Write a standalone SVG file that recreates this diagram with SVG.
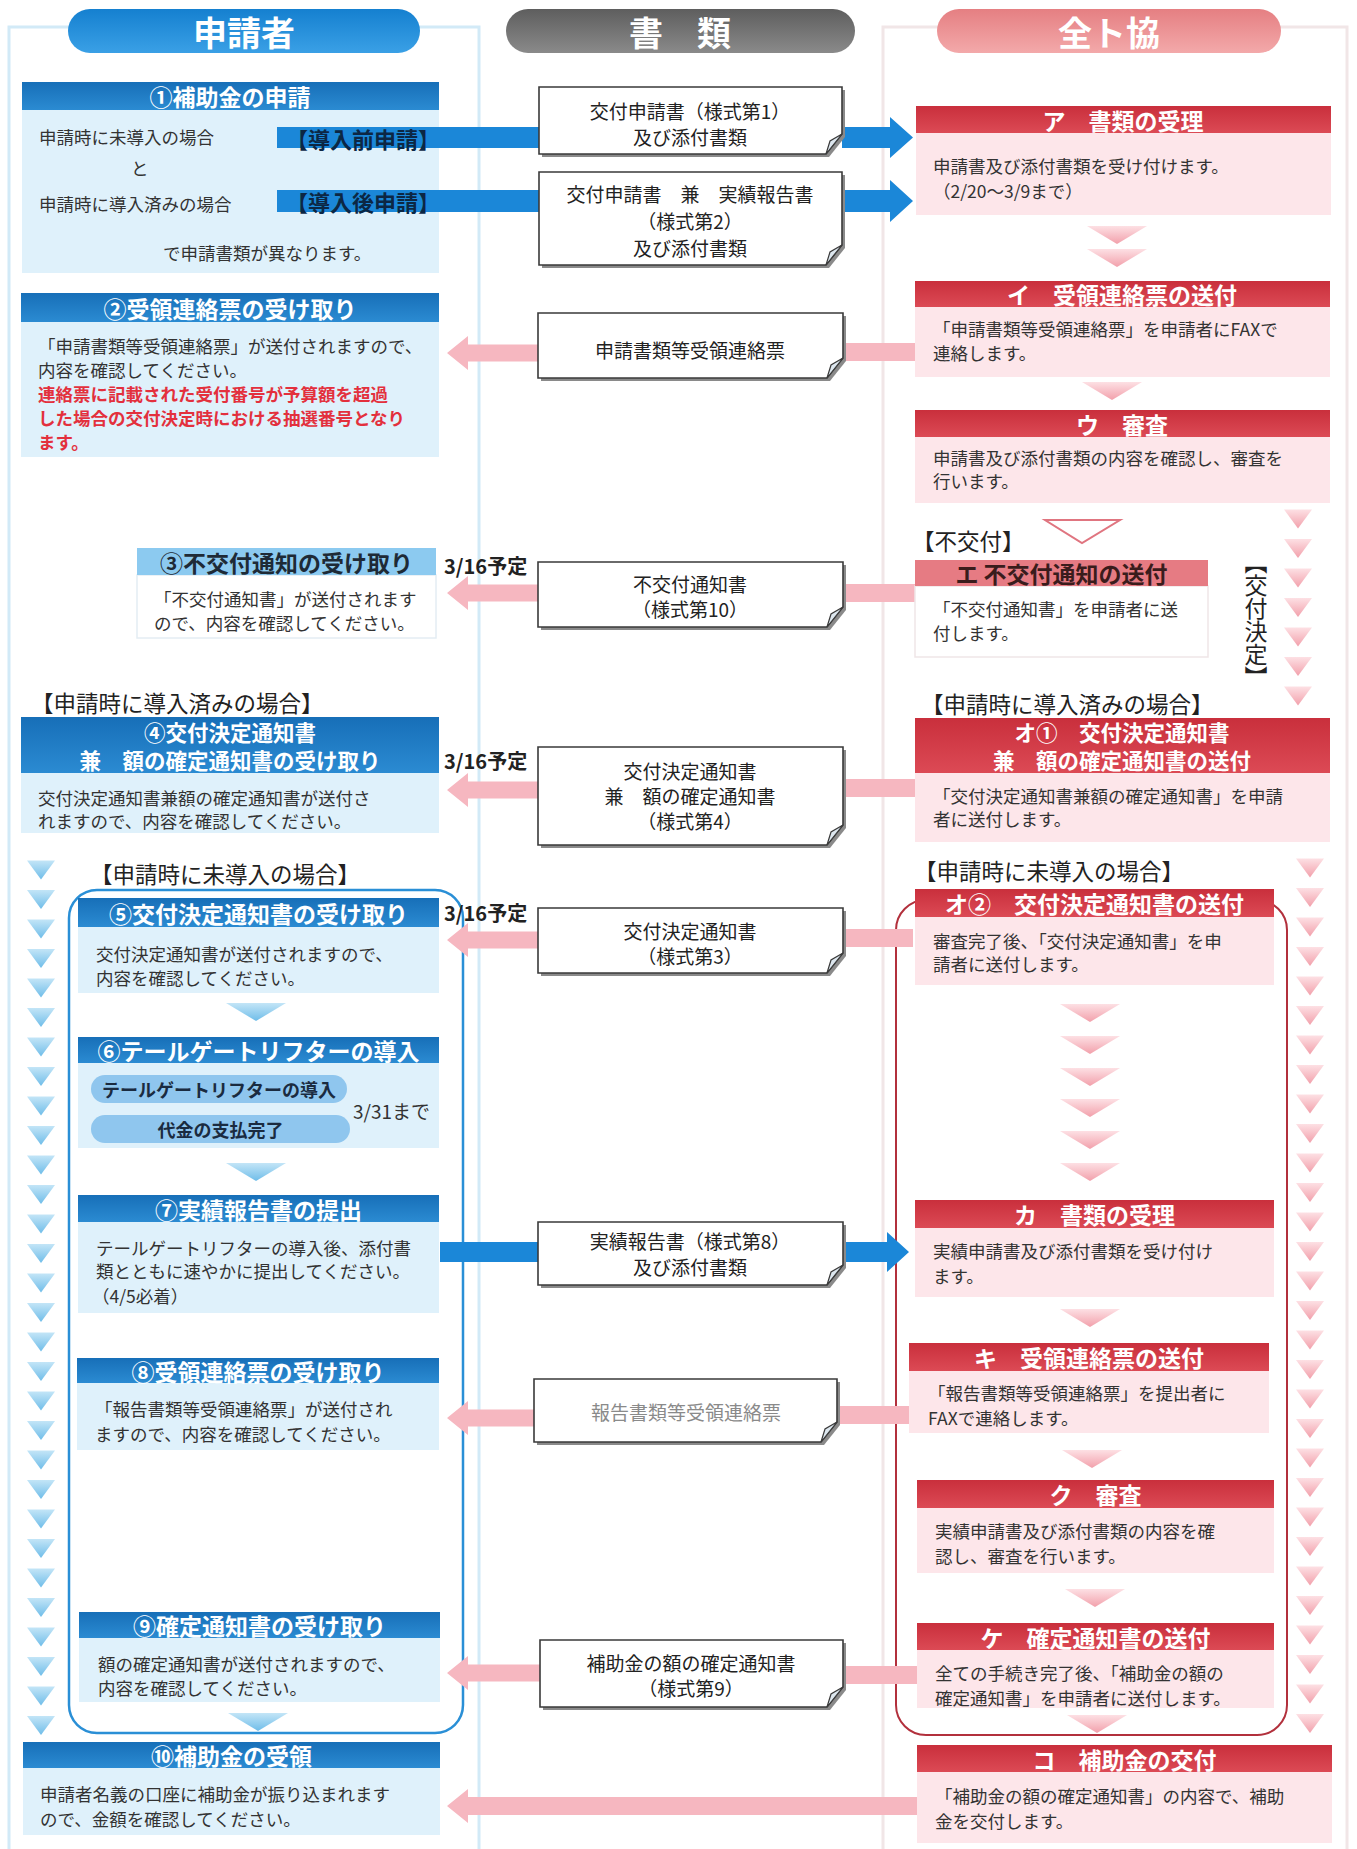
<svg xmlns="http://www.w3.org/2000/svg" xmlns:xlink="http://www.w3.org/1999/xlink" width="1357" height="1849" viewBox="0 0 1357 1849">
<defs>
<style>
text{font-family:"Noto Sans CJK JP","Noto Sans CJK SC",sans-serif;dominant-baseline:central}
.pt{font-size:34px;font-weight:bold;fill:#fff;text-anchor:middle}
.ht{font-size:23px;font-weight:bold;fill:#fff;text-anchor:middle}
.ht2{font-size:21.5px;font-weight:bold;fill:#fff;text-anchor:middle}
.hd{font-size:23px;font-weight:bold;fill:#1e2a36;text-anchor:middle}
.t{font-size:17.5px;fill:#333}
.tr{font-size:17.5px;fill:#e3303d;font-weight:bold}
.dt{font-size:19px;fill:#222;text-anchor:middle}
.lb{font-size:22.5px;fill:#222}
.dd{font-size:20px;font-weight:bold;fill:#222}
.hb{fill:url(#gHB)}
.hr{fill:url(#gHR)}
.bb{fill:#dff1fb}
.br{fill:#fde6ea}
.doc{fill:#fff;stroke:#3a3a3a;stroke-width:1.6}
.sh{fill:#8a8a8a}
.flap{fill:#dde7ef;stroke:#3a3a3a;stroke-width:1.2}
.pa{fill:#f6b7c0}
.ba{fill:#1b87d8}
.tb{fill:url(#gTB)}
.tp{fill:url(#gTP)}
</style>
<linearGradient id="gHB" x1="0" y1="0" x2="0" y2="1"><stop offset="0" stop-color="#176fb8"/><stop offset="1" stop-color="#2b8bd2"/></linearGradient>
<linearGradient id="gHR" x1="0" y1="0" x2="0" y2="1"><stop offset="0" stop-color="#c92f3c"/><stop offset="1" stop-color="#dc4a55"/></linearGradient>
<linearGradient id="gPB" x1="0" y1="0" x2="0" y2="1"><stop offset="0" stop-color="#1580d0"/><stop offset="1" stop-color="#3aa0e6"/></linearGradient>
<linearGradient id="gPG" x1="0" y1="0" x2="0" y2="1"><stop offset="0" stop-color="#5e5e5e"/><stop offset="1" stop-color="#8a8a8a"/></linearGradient>
<linearGradient id="gPP" x1="0" y1="0" x2="0" y2="1"><stop offset="0" stop-color="#e57f82"/><stop offset="1" stop-color="#f3a9aa"/></linearGradient>
<linearGradient id="gTB" x1="0" y1="0" x2="0" y2="1"><stop offset="0" stop-color="#c3e5f7"/><stop offset="1" stop-color="#6fbde9"/></linearGradient>
<linearGradient id="gTP" x1="0" y1="0" x2="0" y2="1"><stop offset="0" stop-color="#fde0e4"/><stop offset="1" stop-color="#f2a0ab"/></linearGradient>
<polygon id="tri" points="-14,-9.5 14,-9.5 0,9.5"/>
<polygon id="chev" points="-30,-9 30,-9 0,9"/>
</defs>
<rect width="1357" height="1849" fill="#fff"/>

<g id="frames" fill="none">
<rect x="9" y="27" width="470" height="1830" stroke="#d2eaf7" stroke-width="3"/>
<rect x="883" y="27" width="464" height="1830" stroke="#f1e6e7" stroke-width="3"/>
</g>

<g id="headers">
<g id="h-applicant"><rect x="68" y="9" width="352" height="44" rx="22" fill="url(#gPB)"/><text class="pt" x="244" y="31">申請者</text></g>
<g id="h-docs"><rect x="506" y="9" width="349" height="44" rx="22" fill="url(#gPG)"/><text class="pt" x="680" y="31">書　類</text></g>
<g id="h-zentokyo"><rect x="937" y="9" width="344" height="44" rx="22" fill="url(#gPP)"/><text class="pt" x="1109" y="31">全ト協</text></g>
</g>

<g id="outlines" fill="none">
<rect x="69" y="890" width="394" height="843" rx="28" stroke="#2a8fd6" stroke-width="2.5"/>
<rect x="896" y="900" width="391" height="835" rx="30" stroke="#b2303c" stroke-width="2"/>
</g>

<g id="connectors">
<rect class="ba" x="277" y="127" width="262" height="21"/>
<polygon class="ba" points="842,127 890,127 890,117 913,137.5 890,158 890,148 842,148"/>
<rect class="ba" x="277" y="190" width="262" height="22"/>
<polygon class="ba" points="842,190 890,190 890,180 913,201 890,222 890,212 842,212"/>
<rect class="ba" x="440" y="1242" width="98" height="20"/>
<polygon class="ba" points="843,1242 887,1242 887,1232 909,1252 887,1272 887,1262 843,1262"/>
<polygon class="pa" points="447,353 468,336 468,344.5 538,344.5 538,361.5 468,361.5 468,370"/>
<polygon class="pa" points="447,593 468,576 468,584.5 538,584.5 538,601.5 468,601.5 468,610"/>
<polygon class="pa" points="447,790 468,773 468,781.5 538,781.5 538,798.5 468,798.5 468,807"/>
<polygon class="pa" points="447,940 468,923 468,931.5 538,931.5 538,948.5 468,948.5 468,957"/>
<polygon class="pa" points="447,1418 468,1401 468,1409.5 534,1409.5 534,1426.5 468,1426.5 468,1435"/>
<polygon class="pa" points="447,1673 468,1656 468,1664.5 540,1664.5 540,1681.5 468,1681.5 468,1690"/>
<polygon class="pa" points="447,1806 468,1789 468,1797 917,1797 917,1815 468,1815 468,1823"/>
<rect class="pa" x="843" y="343" width="72" height="18"/>
<rect class="pa" x="843" y="584" width="72" height="18"/>
<rect class="pa" x="843" y="779" width="72" height="18"/>
<rect class="pa" x="843" y="929" width="70" height="18"/>
<rect class="pa" x="837" y="1406" width="72" height="18"/>
<rect class="pa" x="843" y="1666" width="74" height="18"/>
<g class="tb">
<use href="#chev" x="256" y="1012"/><use href="#chev" x="256" y="1172"/><use href="#chev" x="258" y="1722"/>
</g>
<g class="tp">
<use href="#chev" x="1117" y="235"/><use href="#chev" x="1117" y="258"/><use href="#chev" x="1112" y="391"/>
<use href="#chev" x="1090" y="1013"/><use href="#chev" x="1090" y="1045"/><use href="#chev" x="1090" y="1077"/>
<use href="#chev" x="1090" y="1108"/><use href="#chev" x="1090" y="1140"/><use href="#chev" x="1090" y="1172"/>
<use href="#chev" x="1090" y="1318"/><use href="#chev" x="1092" y="1459"/><use href="#chev" x="1095" y="1598"/><use href="#chev" x="1097" y="1724"/>
</g>
<polygon points="1045,520 1120,520 1082,543" fill="#fff" stroke="#e07580" stroke-width="2"/>
<g class="tb">
<use href="#tri" x="41" y="870"/><use href="#tri" x="41" y="899.5"/><use href="#tri" x="41" y="929"/><use href="#tri" x="41" y="958.5"/><use href="#tri" x="41" y="988"/>
<use href="#tri" x="41" y="1017.5"/><use href="#tri" x="41" y="1047"/><use href="#tri" x="41" y="1076.5"/><use href="#tri" x="41" y="1106"/><use href="#tri" x="41" y="1135.5"/>
<use href="#tri" x="41" y="1165"/><use href="#tri" x="41" y="1194.5"/><use href="#tri" x="41" y="1224"/><use href="#tri" x="41" y="1253.5"/><use href="#tri" x="41" y="1283"/>
<use href="#tri" x="41" y="1312.5"/><use href="#tri" x="41" y="1342"/><use href="#tri" x="41" y="1371.5"/><use href="#tri" x="41" y="1401"/><use href="#tri" x="41" y="1430.5"/>
<use href="#tri" x="41" y="1460"/><use href="#tri" x="41" y="1489.5"/><use href="#tri" x="41" y="1519"/><use href="#tri" x="41" y="1548.5"/><use href="#tri" x="41" y="1578"/>
<use href="#tri" x="41" y="1607.5"/><use href="#tri" x="41" y="1637"/><use href="#tri" x="41" y="1666.5"/><use href="#tri" x="41" y="1696"/><use href="#tri" x="41" y="1725.5"/>
</g>
<g class="tp">
<use href="#tri" x="1298" y="519"/><use href="#tri" x="1298" y="548.5"/><use href="#tri" x="1298" y="578"/><use href="#tri" x="1298" y="607.5"/><use href="#tri" x="1298" y="637"/><use href="#tri" x="1298" y="666.5"/><use href="#tri" x="1298" y="696"/>
<use href="#tri" x="1310" y="868"/><use href="#tri" x="1310" y="897.5"/><use href="#tri" x="1310" y="927"/><use href="#tri" x="1310" y="956.5"/><use href="#tri" x="1310" y="986"/>
<use href="#tri" x="1310" y="1015.5"/><use href="#tri" x="1310" y="1045"/><use href="#tri" x="1310" y="1074.5"/><use href="#tri" x="1310" y="1104"/><use href="#tri" x="1310" y="1133.5"/>
<use href="#tri" x="1310" y="1163"/><use href="#tri" x="1310" y="1192.5"/><use href="#tri" x="1310" y="1222"/><use href="#tri" x="1310" y="1251.5"/><use href="#tri" x="1310" y="1281"/>
<use href="#tri" x="1310" y="1310.5"/><use href="#tri" x="1310" y="1340"/><use href="#tri" x="1310" y="1369.5"/><use href="#tri" x="1310" y="1399"/><use href="#tri" x="1310" y="1428.5"/>
<use href="#tri" x="1310" y="1458"/><use href="#tri" x="1310" y="1487.5"/><use href="#tri" x="1310" y="1517"/><use href="#tri" x="1310" y="1546.5"/><use href="#tri" x="1310" y="1576"/>
<use href="#tri" x="1310" y="1605.5"/><use href="#tri" x="1310" y="1635"/><use href="#tri" x="1310" y="1664.5"/><use href="#tri" x="1310" y="1694"/><use href="#tri" x="1310" y="1723.5"/>
</g>
</g>

<g id="n1">
<rect class="bb" x="22" y="110" width="417" height="163"/>
<rect class="ba" x="277" y="127" width="162" height="21"/>
<rect class="ba" x="277" y="190" width="162" height="22"/>
<rect class="hb" x="22" y="82" width="417" height="28"/>
<text class="ht" x="230" y="96">①補助金の申請</text>
<text class="t" x="39" y="136">申請時に未導入の場合</text>
<text class="t" x="131" y="167">と</text>
<text class="t" x="39" y="203">申請時に導入済みの場合</text>
<text class="t" x="163" y="252">で申請書類が異なります。</text>
<text x="286" y="137.5" font-size="22" font-weight="bold" fill="#0c2744">【導入前申請】</text>
<text x="286" y="201" font-size="22" font-weight="bold" fill="#0c2744">【導入後申請】</text>
</g>
<g id="n2">
<rect class="bb" x="21" y="322" width="418" height="135"/>
<rect class="hb" x="21" y="293" width="418" height="29"/>
<text class="ht" x="230" y="307.5">②受領連絡票の受け取り</text>
<text class="t" x="38" y="345">「申請書類等受領連絡票」が送付されますので、</text>
<text class="t" x="38" y="369">内容を確認してください。</text>
<text class="tr" x="38" y="393">連絡票に記載された受付番号が予算額を超過</text>
<text class="tr" x="38" y="417">した場合の交付決定時における抽選番号となり</text>
<text class="tr" x="38" y="441">ます。</text>
</g>
<g id="n3">
<rect x="137" y="575" width="299" height="63" fill="#fff" stroke="#e4edf3" stroke-width="1.5"/>
<rect x="137" y="548" width="299" height="27" fill="#8ccaf0"/>
<text class="hd" x="286.5" y="561.5">③不交付通知の受け取り</text>
<text class="t" x="154" y="598">「不交付通知書」が送付されます</text>
<text class="t" x="154" y="622">ので、内容を確認してください。</text>
</g>
<text class="dd" x="444" y="565">3/16予定</text>
<g id="n4">
<text class="lb" x="31" y="702">【申請時に導入済みの場合】</text>
<rect class="bb" x="21" y="773" width="418" height="60"/>
<rect class="hb" x="21" y="717" width="418" height="56"/>
<text class="ht2" x="230" y="731">④交付決定通知書</text>
<text class="ht2" x="230" y="759">兼　額の確定通知書の受け取り</text>
<text class="t" x="38" y="797">交付決定通知書兼額の確定通知書が送付さ</text>
<text class="t" x="38" y="820">れますので、内容を確認してください。</text>
</g>
<text class="dd" x="444" y="760">3/16予定</text>
<text class="lb" x="90" y="873">【申請時に未導入の場合】</text>
<g id="n5">
<rect class="bb" x="78" y="927" width="361" height="66"/>
<rect class="hb" x="78" y="898" width="361" height="29"/>
<text class="ht" x="258.5" y="912.5">⑤交付決定通知書の受け取り</text>
<text class="t" x="96" y="953">交付決定通知書が送付されますので、</text>
<text class="t" x="96" y="977">内容を確認してください。</text>
</g>
<text class="dd" x="444" y="912">3/16予定</text>
<g id="n6">
<rect class="bb" x="78" y="1063" width="361" height="85"/>
<rect class="hb" x="78" y="1037" width="361" height="26"/>
<text class="ht" x="258.5" y="1050">⑥テールゲートリフターの導入</text>
<rect x="91" y="1075" width="256" height="28" rx="14" fill="#8fc6ee"/>
<rect x="91" y="1115" width="259" height="28" rx="14" fill="#8fc6ee"/>
<text x="219" y="1089" font-size="18" font-weight="bold" fill="#1a2b40" text-anchor="middle">テールゲートリフターの導入</text>
<text x="220.5" y="1129" font-size="18" font-weight="bold" fill="#1a2b40" text-anchor="middle">代金の支払完了</text>
<text x="353" y="1110" font-size="19" fill="#333">3/31まで</text>
</g>
<g id="n7">
<rect class="bb" x="78" y="1222" width="361" height="91"/>
<rect class="hb" x="78" y="1195" width="361" height="27"/>
<text class="ht" x="258.5" y="1208.5">⑦実績報告書の提出</text>
<text class="t" x="96" y="1247">テールゲートリフターの導入後、添付書</text>
<text class="t" x="96" y="1270">類とともに速やかに提出してください。</text>
<text class="t" x="92" y="1295">（4/5必着）</text>
</g>
<g id="n8">
<rect class="bb" x="77" y="1383" width="362" height="67"/>
<rect class="hb" x="77" y="1358" width="362" height="25"/>
<text class="ht" x="258" y="1370.5">⑧受領連絡票の受け取り</text>
<text class="t" x="95" y="1408">「報告書類等受領連絡票」が送付され</text>
<text class="t" x="95" y="1433">ますので、内容を確認してください。</text>
</g>
<g id="n9">
<rect class="bb" x="79" y="1638" width="361" height="64"/>
<rect class="hb" x="79" y="1612" width="361" height="26"/>
<text class="ht" x="259.5" y="1625">⑨確定通知書の受け取り</text>
<text class="t" x="98" y="1663">額の確定通知書が送付されますので、</text>
<text class="t" x="98" y="1687">内容を確認してください。</text>
</g>
<g id="n10">
<rect class="bb" x="23" y="1768" width="417" height="67"/>
<rect class="hb" x="23" y="1742" width="417" height="26"/>
<text class="ht" x="231.5" y="1755">⑩補助金の受領</text>
<text class="t" x="40" y="1793">申請者名義の口座に補助金が振り込まれます</text>
<text class="t" x="40" y="1818">ので、金額を確認してください。</text>
</g>

<g id="d1"><path class="sh" d="M542,90 H845 V137 L829,157 H542 Z"/><path class="doc" d="M539,87 H842 V134 L826,154 H539 Z"/><path class="flap" d="M842,134 L830,141 L826,154 Z"/>
<text class="dt" x="690" y="110">交付申請書（様式第1）</text><text class="dt" x="690" y="136">及び添付書類</text></g>
<g id="d2"><path class="sh" d="M542,175 H845 V248 L829,268 H542 Z"/><path class="doc" d="M539,172 H842 V245 L826,265 H539 Z"/><path class="flap" d="M842,245 L830,252 L826,265 Z"/>
<text class="dt" x="690" y="193">交付申請書　兼　実績報告書</text><text class="dt" x="690" y="220">（様式第2）</text><text class="dt" x="690" y="247">及び添付書類</text></g>
<g id="d3"><path class="sh" d="M541,316 H846 V361 L830,381 H541 Z"/><path class="doc" d="M538,313 H843 V358 L827,378 H538 Z"/><path class="flap" d="M843,358 L831,365 L827,378 Z"/>
<text class="dt" x="690" y="349">申請書類等受領連絡票</text></g>
<g id="d4"><path class="sh" d="M541,565 H846 V610 L830,630 H541 Z"/><path class="doc" d="M538,562 H843 V607 L827,627 H538 Z"/><path class="flap" d="M843,607 L831,614 L827,627 Z"/>
<text class="dt" x="690" y="583" fill="#444">不交付通知書</text><text class="dt" x="690" y="608">（様式第10）</text></g>
<g id="d5"><path class="sh" d="M541,750 H846 V828 L830,848 H541 Z"/><path class="doc" d="M538,747 H843 V825 L827,845 H538 Z"/><path class="flap" d="M843,825 L831,832 L827,845 Z"/>
<text class="dt" x="690" y="770">交付決定通知書</text><text class="dt" x="690" y="795">兼　額の確定通知書</text><text class="dt" x="690" y="820">（様式第4）</text></g>
<g id="d6"><path class="sh" d="M541,911 H846 V956 L830,976 H541 Z"/><path class="doc" d="M538,908 H843 V953 L827,973 H538 Z"/><path class="flap" d="M843,953 L831,960 L827,973 Z"/>
<text class="dt" x="690" y="930">交付決定通知書</text><text class="dt" x="690" y="955">（様式第3）</text></g>
<g id="d7"><path class="sh" d="M541,1225 H846 V1268 L830,1288 H541 Z"/><path class="doc" d="M538,1222 H843 V1265 L827,1285 H538 Z"/><path class="flap" d="M843,1265 L831,1272 L827,1285 Z"/>
<text class="dt" x="690" y="1240">実績報告書（様式第8）</text><text class="dt" x="690" y="1266">及び添付書類</text></g>
<g id="d8"><path class="sh" d="M537,1382 H840 V1425 L824,1445 H537 Z"/><path class="doc" d="M534,1379 H837 V1422 L821,1442 H534 Z"/><path class="flap" d="M837,1422 L825,1429 L821,1442 Z"/>
<text class="dt" x="686" y="1411" style="fill:#8a8a8a">報告書類等受領連絡票</text></g>
<g id="d9"><path class="sh" d="M543,1643 H846 V1690 L830,1710 H543 Z"/><path class="doc" d="M540,1640 H843 V1687 L827,1707 H540 Z"/><path class="flap" d="M843,1687 L831,1694 L827,1707 Z"/>
<text class="dt" x="691" y="1662">補助金の額の確定通知書</text><text class="dt" x="691" y="1687">（様式第9）</text></g>

<g id="na">
<rect class="br" x="916" y="133" width="415" height="82"/>
<rect class="hr" x="916" y="106" width="415" height="27"/>
<text class="ht" x="1123" y="119.5">ア　書類の受理</text>
<text class="t" x="933" y="165">申請書及び添付書類を受け付けます。</text>
<text class="t" x="933" y="190">（2/20～3/9まで）</text>
</g>
<g id="ni">
<rect class="br" x="915" y="307" width="415" height="70"/>
<rect class="hr" x="915" y="281" width="415" height="26"/>
<text class="ht" x="1122" y="294">イ　受領連絡票の送付</text>
<text class="t" x="933" y="328">「申請書類等受領連絡票」を申請者にFAXで</text>
<text class="t" x="933" y="352">連絡します。</text>
</g>
<g id="nu">
<rect class="br" x="915" y="437" width="415" height="66"/>
<rect class="hr" x="915" y="410" width="415" height="27"/>
<text class="ht" x="1122" y="423.5">ウ　審査</text>
<text class="t" x="933" y="457">申請書及び添付書類の内容を確認し、審査を</text>
<text class="t" x="933" y="480">行います。</text>
</g>
<text class="lb" x="912" y="540">【不交付】</text>
<text x="1256" y="620" font-size="23" fill="#222" text-anchor="middle" style="writing-mode:vertical-rl">【交付決定】</text>
<g id="ne">
<rect x="915" y="586" width="293" height="71" fill="#fff" stroke="#efe6e7" stroke-width="1.5"/>
<rect x="915" y="560" width="293" height="26" fill="#e67b83"/>
<text class="hd" x="1061.5" y="573" style="fill:#3a1c1c">エ 不交付通知の送付</text>
<text class="t" x="933" y="608">「不交付通知書」を申請者に送</text>
<text class="t" x="933" y="632">付します。</text>
</g>
<g id="no1">
<text class="lb" x="921" y="703">【申請時に導入済みの場合】</text>
<rect class="br" x="915" y="773" width="415" height="69"/>
<rect class="hr" x="915" y="718" width="415" height="55"/>
<text class="ht2" x="1122" y="731">オ①　交付決定通知書</text>
<text class="ht2" x="1122" y="759">兼　額の確定通知書の送付</text>
<text class="t" x="933" y="795">「交付決定通知書兼額の確定通知書」を申請</text>
<text class="t" x="933" y="818">者に送付します。</text>
</g>
<g id="no2">
<text class="lb" x="914" y="870">【申請時に未導入の場合】</text>
<rect class="br" x="915" y="917" width="359" height="68"/>
<rect class="hr" x="915" y="889" width="359" height="28"/>
<text class="ht" x="1094.5" y="903">オ②　交付決定通知書の送付</text>
<text class="t" x="933" y="940">審査完了後、「交付決定通知書」を申</text>
<text class="t" x="933" y="963">請者に送付します。</text>
</g>
<g id="nka">
<rect class="br" x="915" y="1228" width="359" height="69"/>
<rect class="hr" x="915" y="1200" width="359" height="28"/>
<text class="ht" x="1094.5" y="1214">カ　書類の受理</text>
<text class="t" x="933" y="1250">実績申請書及び添付書類を受け付け</text>
<text class="t" x="933" y="1275">ます。</text>
</g>
<g id="nki">
<rect class="br" x="909" y="1371" width="360" height="62"/>
<rect class="hr" x="909" y="1343" width="360" height="28"/>
<text class="ht" x="1089" y="1357">キ　受領連絡票の送付</text>
<text class="t" x="928" y="1392">「報告書類等受領連絡票」を提出者に</text>
<text class="t" x="928" y="1417">FAXで連絡します。</text>
</g>
<g id="nku">
<rect class="br" x="917" y="1508" width="357" height="65"/>
<rect class="hr" x="917" y="1480" width="357" height="28"/>
<text class="ht" x="1095.5" y="1494">ク　審査</text>
<text class="t" x="935" y="1530">実績申請書及び添付書類の内容を確</text>
<text class="t" x="935" y="1555">認し、審査を行います。</text>
</g>
<g id="nke">
<rect class="br" x="917" y="1650" width="357" height="58"/>
<rect class="hr" x="917" y="1623" width="357" height="27"/>
<text class="ht" x="1095.5" y="1636.5">ケ　確定通知書の送付</text>
<text class="t" x="935" y="1672">全ての手続き完了後、「補助金の額の</text>
<text class="t" x="935" y="1697">確定通知書」を申請者に送付します。</text>
</g>
<g id="nko">
<rect class="br" x="917" y="1772" width="415" height="71"/>
<rect class="hr" x="917" y="1745" width="415" height="27"/>
<text class="ht" x="1124.5" y="1758.5">コ　補助金の交付</text>
<text class="t" x="935" y="1795">「補助金の額の確定通知書」の内容で、補助</text>
<text class="t" x="935" y="1820">金を交付します。</text>
</g>
</svg>
